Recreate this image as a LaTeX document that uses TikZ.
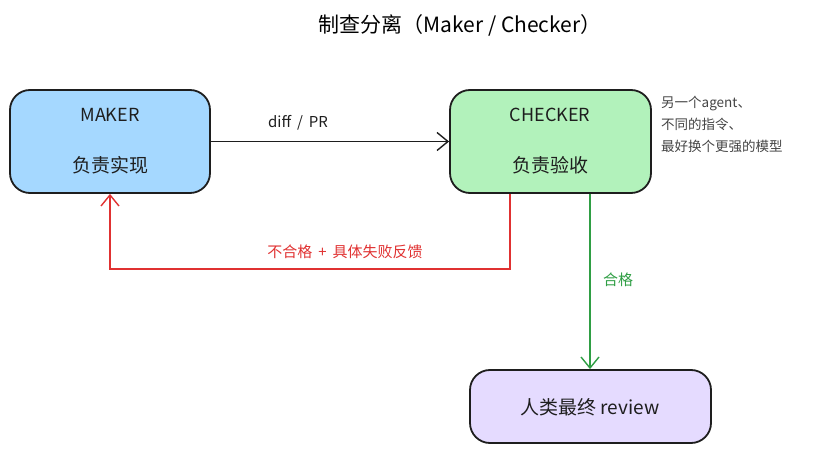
\documentclass[tikz,border=0pt]{standalone}
\usepackage{fontspec}
\setmainfont{Noto Sans CJK SC}
\usetikzlibrary{arrows.meta}
\definecolor{ink}{HTML}{1E1E1E}
\definecolor{makerfill}{HTML}{A5D8FF}
\definecolor{checkfill}{HTML}{B2F2BB}
\definecolor{humanfill}{HTML}{E5DBFF}
\definecolor{redln}{HTML}{E03131}
\definecolor{greenln}{HTML}{2F9E44}
\definecolor{notegray}{HTML}{444444}
\tikzset{
  box/.style={draw=ink, line width=1.8pt, rounded corners=20pt},
  conn/.style={line width=1.4pt, -{Straight Barb[length=11pt,width=18pt,line width=1.4pt]}},
  boxtitle/.style={font=\fontsize{18}{20}\selectfont, text=ink},
  boxsub/.style={font=\fontsize{19}{22}\selectfont, text=ink},
}
\begin{document}
\begin{tikzpicture}[x=1pt,y=-1pt]
\useasboundingbox (0,0) rectangle (820,454);
\node (title) at (460,25) {\fontsize{21}{24}\selectfont 制查分离（Maker / Checker）};

\node[box, fill=makerfill, minimum width=200pt, minimum height=103pt] (maker) at (110,141.5) {};
\node[boxtitle] (makert) at (110,115) {MAKER};
\node[boxsub] (makers) at (110,165) {负责实现};

\node[box, fill=checkfill, minimum width=201pt, minimum height=103pt] (checker) at (550.5,141.5) {};
\node[boxtitle] (checkt) at (550,115) {CHECKER};
\node[boxsub] (checks) at (550,165) {负责验收};

\node[box, fill=humanfill, minimum width=241pt, minimum height=73pt] (human) at (590.5,406.5) {};
\node[boxsub] (humant) at (590,407) {人类最终 review};

\node[anchor=north west, align=left, text=notegray, font=\fontsize{13.5}{22}\selectfont, inner sep=0pt] (note) at (661,96) {另一个agent、\\不同的指令、\\最好换个更强的模型};

\draw[conn, draw=ink] (maker.east) -- (checker.west);
\node[font=\fontsize{15}{17}\selectfont, text=ink] (difflbl) at (298,123) {diff\, /\, PR};

\coordinate (r1) at (510,269);
\coordinate (r2) at (110,269);
\draw[conn, draw=redln] (checker.south -| 510,0) -- (r1) -- (r2) -- (maker.south);
\node[font=\fontsize{15}{17}\selectfont, text=redln] (redlbl) at (345,252) {不合格\, +\, 具体失败反馈};

\draw[conn, draw=greenln] (checker.south -| 590,0) -- (human.north -| 590,0);
\node[font=\fontsize{15}{17}\selectfont, text=greenln] (greenlbl) at (618,280) {合格};
\end{tikzpicture}
\end{document}
